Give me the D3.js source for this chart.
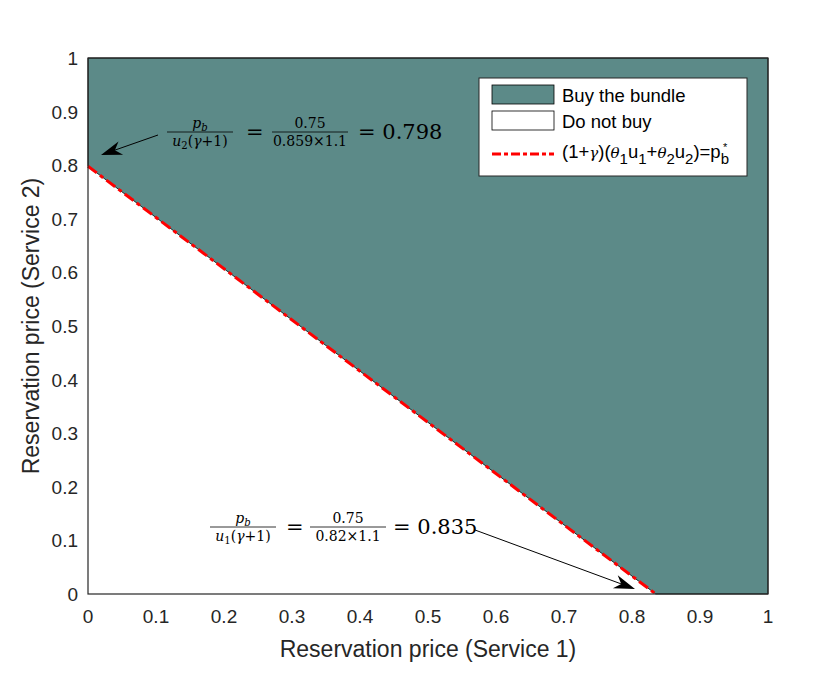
<!DOCTYPE html>
<html>
<head>
<meta charset="utf-8">
<script src="https://cdn.jsdelivr.net/npm/d3@7"></script>
<style>
  body { margin: 0; background: #fff; }
  svg { display: block; }
  .tick-label { font-family: "Liberation Sans", Arial, sans-serif; font-size: 19px; fill: #262626; }
  .axis-title { font-family: "Liberation Sans", Arial, sans-serif; font-size: 23px; fill: #262626; }
  .legend-text { font-family: "Liberation Sans", Arial, sans-serif; font-size: 18.5px; fill: #000; }
  .math { font-family: "DejaVu Serif", serif; fill: #000; }
</style>
</head>
<body>
<svg id="chart" width="825" height="675"></svg>
<script>
// Axis ticks
const xTicks = [0, 0.1, 0.2, 0.3, 0.4, 0.5, 0.6, 0.7, 0.8, 0.9, 1];
const yTicks = [0, 0.1, 0.2, 0.3, 0.4, 0.5, 0.6, 0.7, 0.8, 0.9, 1];
const tickLabels = ['0', '0.1', '0.2', '0.3', '0.4', '0.5', '0.6', '0.7', '0.8', '0.9', '1'];

// Decision boundary (1+gamma)(theta1 u1 + theta2 u2) = pb*
const boundaryX = [0, 0.835];
const boundaryY = [0.798, 0];

// Legend entries
const legendLabels = ['Buy the bundle', 'Do not buy'];

const svg = d3.select('#chart');
const margin = { left: 88, right: 57, top: 58, bottom: 81 };
const width = 825, height = 675;

const x = d3.scaleLinear().domain([0, 1]).range([margin.left, width - margin.right]);
const y = d3.scaleLinear().domain([0, 1]).range([height - margin.bottom, margin.top]);

const teal = '#5c8a88';

// "Buy" region: everything above the boundary
const region = [
    [boundaryX[0], boundaryY[0]],
    [0, 1], [1, 1], [1, 0],
    [boundaryX[1], boundaryY[1]]
];
svg.append('path')
    .attr('d', d3.line().x(d => x(d[0])).y(d => y(d[1]))(region) + 'Z')
    .attr('fill', teal)
    .attr('stroke', '#000')
    .attr('stroke-width', 0.8);

// boundary line (red dash-dot)
svg.append('path')
    .attr('d', d3.line().x(d => x(d[0])).y(d => y(d[1]))(boundaryX.map((v, i) => [v, boundaryY[i]])))
    .attr('fill', 'none')
    .attr('stroke', '#ff0000')
    .attr('stroke-width', 3)
    .attr('stroke-dasharray', '11,4,4,4');

// axes box
svg.append('rect')
    .attr('x', x(0)).attr('y', y(1))
    .attr('width', x(1) - x(0)).attr('height', y(0) - y(1))
    .attr('fill', 'none').attr('stroke', '#262626').attr('stroke-width', 1.2);

// tick labels
svg.append('g').selectAll('text')
    .data(xTicks)
    .join('text')
    .attr('class', 'tick-label')
    .attr('x', d => x(d))
    .attr('y', y(0) + 29)
    .attr('text-anchor', 'middle')
    .text((d, i) => tickLabels[i]);

svg.append('g').selectAll('text')
    .data(yTicks)
    .join('text')
    .attr('class', 'tick-label')
    .attr('x', x(0) - 10)
    .attr('y', d => y(d) + 7)
    .attr('text-anchor', 'end')
    .text((d, i) => tickLabels[i]);

// axis titles
svg.append('text')
    .attr('class', 'axis-title')
    .attr('x', (x(0) + x(1)) / 2)
    .attr('y', 657)
    .attr('text-anchor', 'middle')
    .text('Reservation price (Service 1)');

svg.append('text')
    .attr('class', 'axis-title')
    .attr('transform', `translate(39,${(y(0) + y(1)) / 2}) rotate(-90)`)
    .attr('text-anchor', 'middle')
    .text('Reservation price (Service 2)');

// legend
const lg = svg.append('g');
lg.append('rect')
    .attr('x', 479).attr('y', 78).attr('width', 268).attr('height', 98)
    .attr('fill', '#fff').attr('stroke', '#262626').attr('stroke-width', 1);

legendLabels.forEach((lab, i) => {
    const yy = 85 + i * 26;
    lg.append('rect')
        .attr('x', 492).attr('y', yy).attr('width', 62).attr('height', 19)
        .attr('fill', i === 0 ? teal : '#fff')
        .attr('stroke', '#000').attr('stroke-width', 0.8);
    lg.append('text')
        .attr('class', 'legend-text')
        .attr('x', 562).attr('y', yy + 17)
        .text(lab);
});

lg.append('line')
    .attr('x1', 492).attr('x2', 554).attr('y1', 154).attr('y2', 154)
    .attr('stroke', '#ff0000').attr('stroke-width', 3)
    .attr('stroke-dasharray', '9,3,4,3');

const lt = lg.append('text').attr('class', 'legend-text').attr('x', 562).attr('y', 158);
const sub = (t) => { lt.append('tspan').attr('dy', 6).attr('font-size', 15).text(t); };
const up = (t) => { lt.append('tspan').attr('dy', -6).text(t); };
lt.append('tspan').text('(1+');
lt.append('tspan').attr('font-family', 'DejaVu Serif, serif').attr('font-style', 'italic').attr('font-size', 15).text('γ');
lt.append('tspan').text(')(');
lt.append('tspan').attr('font-family', 'DejaVu Serif, serif').attr('font-style', 'italic').attr('font-size', 15).text('θ');
sub('1'); up('u'); sub('1'); up('+');
lt.append('tspan').attr('font-family', 'DejaVu Serif, serif').attr('font-style', 'italic').attr('font-size', 15).text('θ');
sub('2'); up('u'); sub('2'); up(')=p');
sub('b');
// superscript star stacked over the subscript b
lt.append('tspan').attr('dx', -6).attr('dy', -13).attr('font-size', 11).text('*');

// math annotations
function fraction(g, cx, barY, numParts, denParts, size, barW) {
    const num = g.append('text').attr('class', 'math').attr('x', cx).attr('y', barY - 4)
        .attr('text-anchor', 'middle').attr('font-size', size);
    numParts.forEach(p => num.append('tspan').attr('font-style', p.it ? 'italic' : 'normal')
        .attr('font-size', p.sub ? size * 0.72 : size).attr('dy', p.dy || 0).text(p.t));
    g.append('line').attr('x1', cx - barW / 2).attr('x2', cx + barW / 2)
        .attr('y1', barY).attr('y2', barY).attr('stroke', '#000').attr('stroke-width', 0.8);
    const den = g.append('text').attr('class', 'math').attr('x', cx).attr('y', barY + 14)
        .attr('text-anchor', 'middle').attr('font-size', size);
    denParts.forEach(p => den.append('tspan').attr('font-style', p.it ? 'italic' : 'normal')
        .attr('font-size', p.sub ? size * 0.72 : size).attr('dy', p.dy || 0).text(p.t));
}

function annotation(pos, barY, uSub, denNum, result) {
    const g = svg.append('g');
    fraction(g, pos[0], barY,
        [{ t: 'p', it: true }, { t: 'b', it: true, sub: true, dy: 3 }],
        [{ t: 'u', it: true }, { t: uSub, sub: true, dy: 3 }, { t: '(', dy: -3 }, { t: 'γ', it: true }, { t: '+1)' }],
        14, 66);
    g.append('text').attr('class', 'math').attr('x', pos[1]).attr('y', barY + 7)
        .attr('font-size', 21).text('=');
    fraction(g, pos[2], barY,
        [{ t: '0.75' }],
        [{ t: denNum + '×1.1' }],
        14, 76);
    g.append('text').attr('class', 'math').attr('x', pos[3]).attr('y', barY + 7)
        .attr('font-size', 21).text('= ' + result);
}

annotation([200, 246, 310, 358], 132, '2', '0.859', '0.798');
annotation([243, 286, 348, 393], 527, '1', '0.82', '0.835');

// arrows
function arrow(x1, y1, x2, y2) {
    const g = svg.append('g');
    const ang = Math.atan2(y2 - y1, x2 - x1);
    const L = 21, W = 7;
    const bx = x2 - L * Math.cos(ang), by = y2 - L * Math.sin(ang);
    const mx = x2 - L * 0.7 * Math.cos(ang), my = y2 - L * 0.7 * Math.sin(ang);
    g.append('line').attr('x1', x1).attr('y1', y1).attr('x2', mx).attr('y2', my)
        .attr('stroke', '#000').attr('stroke-width', 1);
    const px = -Math.sin(ang) * W, py = Math.cos(ang) * W;
    g.append('path')
        .attr('d', `M${x2},${y2} L${bx + px},${by + py} L${mx},${my} L${bx - px},${by - py} Z`)
        .attr('fill', '#000');
}
arrow(158, 135, 101, 155);
arrow(475, 530, 635, 589);
</script>
</body>
</html>
